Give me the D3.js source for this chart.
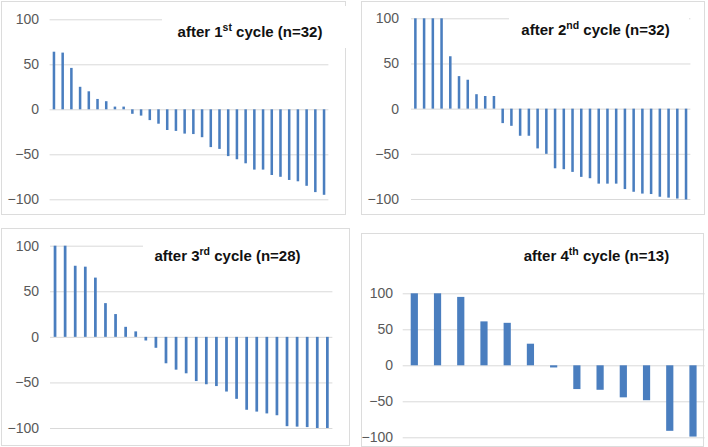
<!DOCTYPE html>
<html><head><meta charset="utf-8">
<script src="https://cdn.jsdelivr.net/npm/d3@7"></script>
<style>body{margin:0;background:#fff}svg{display:block}</style>
</head><body>
<script>
// ---- data ----
const cycle1 = [64, 63, 46, 25, 20, 11.5, 9, 3, 3, -5, -7, -12, -16, -23, -24, -27, -27.5, -31, -42, -44, -52, -55.5, -60, -67, -67, -73, -75, -78.5, -80, -85, -92, -95];
const cycle2 = [100, 100, 100, 100, 58, 36, 32, 16, 14, 14, -16, -19, -30, -30, -44, -50, -66, -67, -70, -75.5, -77, -83, -83, -83, -89, -92, -94, -94.5, -97.5, -98.5, -99.5, -100.5];
const cycle3 = [100, 100, 78, 77, 65, 37, 25, 11, 6, -4, -12, -29, -36, -40, -48.5, -52, -54, -60, -68, -80, -82, -84, -86, -98, -98.5, -99, -100, -100];
const cycle4 = [100, 100, 95, 61, 59, 30, -3, -33, -34, -44.5, -48.5, -91, -99];
const seriesList = [cycle1, cycle2, cycle3, cycle4];
const titleNumbers = ["1", "2", "3", "4"];
const titleSuffixes = ["st", "nd", "rd", "th"];
const sampleSizes = [32, 32, 28, 13];
const yTickValues = [-100, -50, 0, 50, 100];
const yDomain = [-100, 100];

// ---- layout ----
const W = 708, H = 447;
const layout = [
  {box:[1.5,1.5,344,213], x:[49.6,328.4], y:[199.3,19.3], pad:0.71, lab:39, mask:[162,6,190,42], title:[250,37]},
  {box:[361.5,1.5,343,213], x:[411,690.4], y:[199,18.3], pad:0.71, lab:399, mask:[509,6,180,42], title:[595.5,35]},
  {box:[1.5,228.5,348,217], x:[50,332.4], y:[428,245.7], pad:0.73, lab:39, mask:[143,232,200,40], title:[227.5,261]},
  {box:[361.5,233.5,342,213], x:[402.7,704.6], y:[437.3,293.3], pad:0.69, lab:393, mask:null, title:[596.5,261]}
];

const svg = d3.select("body").append("svg").attr("width", W).attr("height", H);
const barColor = "#4a7ebf";
const gridColor = "#d9d9d9";

seriesList.forEach((vals, i) => {
  const L = layout[i];
  const g = svg.append("g");
  // panel border
  g.append("rect").attr("x", L.box[0]).attr("y", L.box[1]).attr("width", L.box[2]).attr("height", L.box[3])
    .attr("fill", "#fff").attr("stroke", "#dcdcdc").attr("stroke-width", 1);

  const x = d3.scaleBand().domain(d3.range(vals.length)).range(L.x)
    .paddingInner(L.pad).paddingOuter(L.pad / 2);
  const y = d3.scaleLinear().domain(yDomain).range(L.y);

  // gridlines + labels
  const axis = d3.axisLeft(y).tickValues(yTickValues).tickSize(-(L.x[1] - L.x[0])).tickPadding(0)
    .tickFormat(d3.format("d"));
  const ag = g.append("g").attr("transform", `translate(${L.x[0]},0)`).call(axis);
  ag.select(".domain").remove();
  ag.selectAll(".tick line").attr("stroke", gridColor).attr("stroke-width", 1);
  ag.selectAll(".tick text").attr("x", L.lab - L.x[0]).attr("fill", "#595959")
    .attr("font-family", "Liberation Sans, Arial, sans-serif").attr("font-size", 14);

  // bars
  g.append("g").selectAll("rect").data(vals).join("rect")
    .attr("x", (d, j) => x(j))
    .attr("width", x.bandwidth())
    .attr("y", d => y(Math.max(0, d)))
    .attr("height", d => Math.abs(y(d) - y(0)))
    .attr("fill", barColor);

  // title box (white) covering gridline
  if (L.mask) {
    g.append("rect").attr("x", L.mask[0]).attr("y", L.mask[1]).attr("width", L.mask[2]).attr("height", L.mask[3])
      .attr("fill", "#fff");
  }
  const t = g.append("text").attr("x", L.title[0]).attr("y", L.title[1]).attr("text-anchor", "middle")
    .attr("font-family", "Liberation Sans, Arial, sans-serif").attr("font-weight", "bold").attr("font-size", 15)
    .attr("fill", "#111");
  t.append("tspan").text("after " + titleNumbers[i]);
  t.append("tspan").attr("dy", -6).attr("font-size", 10.5).text(titleSuffixes[i]);
  t.append("tspan").attr("dy", 6).text(" cycle (n=" + sampleSizes[i] + ")");
});
</script>
</body></html>
